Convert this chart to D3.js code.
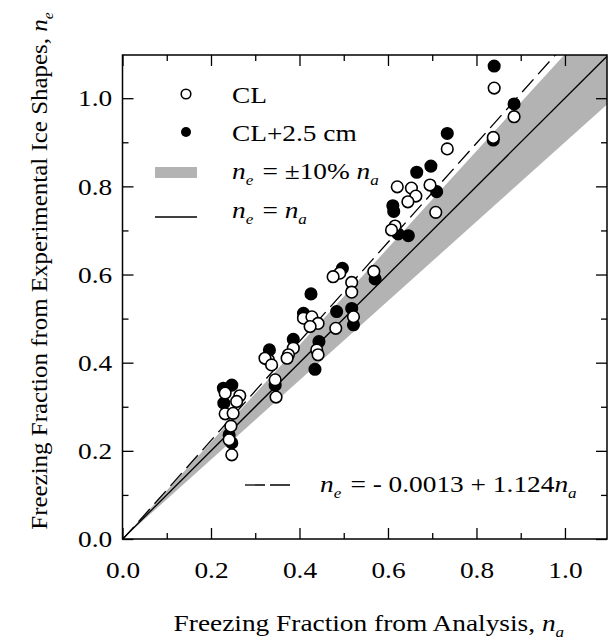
<!DOCTYPE html>
<html>
<head>
<meta charset="utf-8">
<script src="https://cdn.jsdelivr.net/npm/d3@7"></script>
<style>
  body { margin: 0; background: #fff; }
  text { font-family: "Liberation Serif", "Times New Roman", serif; fill: #000; }
</style>
</head>
<body>
<div id="app"></div>
<script>
// values: [n_a, n_e]
const clPoints = [
  [0.840, 1.023], [0.885, 0.958], [0.838, 0.911], [0.734, 0.885], [0.695, 0.803],
  [0.621, 0.799], [0.653, 0.796], [0.663, 0.778], [0.645, 0.765], [0.708, 0.741],
  [0.616, 0.710], [0.608, 0.701], [0.568, 0.607], [0.518, 0.582], [0.518, 0.560],
  [0.522, 0.504], [0.491, 0.603], [0.476, 0.595], [0.482, 0.478], [0.409, 0.501],
  [0.428, 0.504], [0.442, 0.489], [0.424, 0.482], [0.439, 0.429], [0.442, 0.418],
  [0.386, 0.433], [0.375, 0.418], [0.372, 0.410], [0.330, 0.406], [0.322, 0.410],
  [0.337, 0.395], [0.345, 0.361], [0.347, 0.322], [0.232, 0.331], [0.265, 0.325],
  [0.258, 0.312], [0.232, 0.284], [0.250, 0.285], [0.245, 0.256], [0.241, 0.225],
  [0.247, 0.191]
]
const cl25Points = [
  [0.840, 1.073], [0.885, 0.987], [0.838, 0.905], [0.734, 0.920], [0.697, 0.846],
  [0.665, 0.832], [0.710, 0.788], [0.611, 0.756], [0.613, 0.743], [0.646, 0.688],
  [0.623, 0.692], [0.571, 0.590], [0.497, 0.614], [0.426, 0.556], [0.484, 0.516],
  [0.518, 0.523], [0.522, 0.486], [0.409, 0.512], [0.444, 0.448], [0.435, 0.385],
  [0.386, 0.453], [0.332, 0.429], [0.345, 0.349], [0.247, 0.349], [0.228, 0.342],
  [0.229, 0.308], [0.241, 0.236], [0.247, 0.218]
]
const majorTicks = [0, 0.2, 0.4, 0.6, 0.8, 1.0]
const minorTicks = [0.1, 0.3, 0.5, 0.7, 0.9]
const fitIntercept = -0.0013
const fitSlope = 1.124
const bandPct = 0.10
const legendLabels = ['CL', 'CL+2.5 cm']

const W = 608, H = 639
const m = {left: 122.5, right: 1, top: 55, bottom: 100}
const xMax = 1.095, yMax = 1.098
const fs = 24, sx = 1.14
const grey = '#b3b3b3'

const svg = d3.select('#app').append('svg').attr('width', W).attr('height', H)

const x = d3.scaleLinear().domain([0, xMax]).range([m.left, W - m.right])
const y = d3.scaleLinear().domain([0, yMax]).range([H - m.bottom, m.top])

svg.append('clipPath').attr('id', 'clip')
  .append('rect')
  .attr('x', x(0)).attr('y', y(yMax))
  .attr('width', x(xMax) - x(0)).attr('height', y(0) - y(yMax))

const plot = svg.append('g').attr('clip-path', 'url(#clip)')

// +-10% band
const band = [[0, 0], [xMax, xMax * (1 + bandPct)], [xMax, xMax * (1 - bandPct)]]
plot.append('path')
  .attr('d', d3.line().x((d) => x(d[0])).y((d) => y(d[1]))(band) + 'Z')
  .attr('fill', grey)

// n_e = n_a
plot.append('line')
  .attr('x1', x(0)).attr('y1', y(0)).attr('x2', x(xMax)).attr('y2', y(xMax))
  .attr('stroke', '#000').attr('stroke-width', 1.3)

// fit line
plot.append('line')
  .attr('x1', x(0)).attr('y1', y(fitIntercept))
  .attr('x2', x(xMax)).attr('y2', y(fitIntercept + fitSlope * xMax))
  .attr('stroke', '#000').attr('stroke-width', 1.3)
  .attr('stroke-dasharray', '17,7')

plot.selectAll('.cl25').data(cl25Points).join('circle')
  .attr('cx', (d) => x(d[0])).attr('cy', (d) => y(d[1])).attr('r', 5.8)
  .attr('fill', '#000').attr('stroke', '#000').attr('stroke-width', 1.5)

plot.selectAll('.cl').data(clPoints).join('circle')
  .attr('cx', (d) => x(d[0])).attr('cy', (d) => y(d[1])).attr('r', 5.8)
  .attr('fill', '#fff').attr('stroke', '#000').attr('stroke-width', 1.6)

// axes, ticks pointing in on all four sides
const fmt = d3.format('.1f')
const styleAxis = (g) => {
  g.select('.domain').remove()
  g.selectAll('line').attr('stroke', '#000').attr('stroke-width', 1.3)
  g.selectAll('text').attr('font-size', fs).attr('font-family', null)
}
const addAxis = (axis, tx, ty, labels) => {
  const g = svg.append('g').attr('transform', `translate(${tx},${ty})`).call(axis).call(styleAxis)
  if (!labels) g.selectAll('text').remove()
  return g
}
const bx = addAxis(d3.axisBottom(x).tickValues(majorTicks).tickSize(-11).tickPadding(22).tickFormat(fmt), 0, y(0), true)
bx.selectAll('text').attr('transform', `scale(${sx},1)`)
addAxis(d3.axisBottom(x).tickValues(minorTicks).tickSize(-6), 0, y(0), false)
addAxis(d3.axisTop(x).tickValues(majorTicks).tickSize(-11), 0, y(yMax), false)
addAxis(d3.axisTop(x).tickValues(minorTicks).tickSize(-6), 0, y(yMax), false)
const ly = addAxis(d3.axisLeft(y).tickValues(majorTicks).tickSize(-11).tickPadding(9).tickFormat(fmt), x(0), 0, true)
ly.selectAll('text').attr('transform', `scale(${sx},1)`)
addAxis(d3.axisLeft(y).tickValues(minorTicks).tickSize(-6), x(0), 0, false)
addAxis(d3.axisRight(y).tickValues(majorTicks).tickSize(-11), x(xMax), 0, false)
addAxis(d3.axisRight(y).tickValues(minorTicks).tickSize(-6), x(xMax), 0, false)

svg.append('rect')
  .attr('x', x(0)).attr('y', y(yMax))
  .attr('width', x(xMax) - x(0)).attr('height', y(0) - y(yMax))
  .attr('fill', 'none').attr('stroke', '#000').attr('stroke-width', 1.5)

// text helper: italic n with subscript
const addText = (tx, ty, parts, opts = {}) => {
  const t = svg.append('text')
    .attr('transform', `translate(${tx},${ty})${opts.rotate ? ' rotate(-90)' : ''} scale(${opts.scale || sx},1)`)
    .attr('font-size', opts.size || fs)
    .attr('text-anchor', opts.anchor || 'start')
  parts.forEach((p) => {
    if (typeof p === 'string') t.append('tspan').text(p)
    else {
      t.append('tspan').attr('font-style', 'italic').text('n')
      t.append('tspan').attr('font-style', 'italic').attr('font-size', 15).attr('dy', 6).text(p.sub)
      t.append('tspan').attr('dy', -6).text('\u200A')
    }
  })
  return t
}

// legend
const lgX = 186, lgText = 232
svg.append('circle').attr('cx', lgX).attr('cy', 94).attr('r', 4.8)
  .attr('fill', '#fff').attr('stroke', '#000').attr('stroke-width', 1.6)
svg.append('circle').attr('cx', lgX).attr('cy', 132).attr('r', 5)
  .attr('fill', '#000')
svg.append('rect').attr('x', 155).attr('y', 167).attr('width', 42).attr('height', 11).attr('fill', grey)
svg.append('line').attr('x1', 155).attr('x2', 197).attr('y1', 217).attr('y2', 217)
  .attr('stroke', '#000').attr('stroke-width', 1.3)
addText(lgText, 103, [legendLabels[0]])
addText(lgText, 141, [legendLabels[1]])
addText(lgText, 179, [{sub: 'e'}, ' = \u00B110% ', {sub: 'a'}])
addText(lgText, 218, [{sub: 'e'}, ' = ', {sub: 'a'}])

// fit annotation
svg.append('line').attr('x1', 245).attr('x2', 290).attr('y1', 485).attr('y2', 485)
  .attr('stroke', '#000').attr('stroke-width', 1.3).attr('stroke-dasharray', '20,5')
addText(320, 492, [{sub: 'e'}, ' = - ' + Math.abs(fitIntercept).toFixed(4) + ' + ' + fitSlope.toFixed(3), {sub: 'a'}])

// axis titles
addText(370, 631, ['Freezing Fraction from Analysis, ', {sub: 'a'}], {anchor: 'middle'})
addText(47, 270, ['Freezing Fraction from Experimental Ice Shapes, ', {sub: 'e'}], {anchor: 'middle', rotate: true, scale: 1.04})
</script>
</body>
</html>
